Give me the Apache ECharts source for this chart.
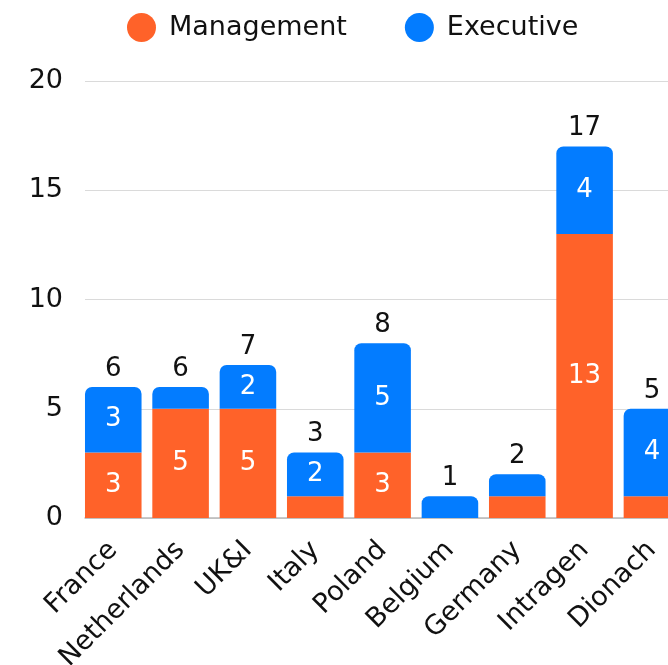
<!DOCTYPE html>
<html>
<head>
<meta charset="utf-8">
<script src="https://cdn.jsdelivr.net/npm/echarts@6/dist/echarts.min.js"></script>
<style>
  html, body { margin: 0; padding: 0; background: #fff; }
  #chart { width: 668px; height: 665px; }
</style>
</head>
<body>
<div id="chart"></div>
<script>
// Headcount by entity, split into management and executive roles
const categories = ['France', 'Netherlands', 'UK&I', 'Italy', 'Poland', 'Belgium', 'Germany', 'Intragen', 'Dionach'];
const management = [3, 5, 5, 1, 3, 0, 1, 13, 1];
const executive  = [3, 1, 2, 2, 5, 1, 1, 4, 4];
const yTicks = [0, 5, 10, 15, 20];

const totals = categories.map((_, i) => management[i] + executive[i]);

const FONT = 'DejaVu Sans';
const ORANGE = '#FF6229';
const BLUE = '#037CFF';

const insideLabel = {
  show: true,
  position: 'inside',
  color: '#ffffff',
  fontFamily: FONT,
  fontSize: 26,
  formatter: p => (p.value >= 2 ? String(p.value) : '')
};

const chart = echarts.init(document.getElementById('chart'), null, { renderer: 'canvas' });

chart.setOption({
  animation: false,
  backgroundColor: '#ffffff',
  textStyle: { fontFamily: FONT },
  legend: {
    data: ['Management', 'Executive'],
    left: 122,
    top: 8,
    icon: 'circle',
    itemWidth: 29,
    itemHeight: 29,
    itemGap: 58,
    textStyle: { fontFamily: FONT, fontSize: 27, color: '#111', padding: [0, 0, 0, 8] }
  },
  grid: [
    // bars and category labels
    { left: 79.6, top: 81, bottom: 147, width: 606, outerBoundsMode: 'none' },
    // horizontal guide lines and value labels
    { left: 85, top: 81, bottom: 147, width: 640, outerBoundsMode: 'none' }
  ],
  xAxis: [
    {
      gridIndex: 0,
      type: 'category',
      data: categories,
      axisLine: { show: false },
      axisTick: { show: false },
      axisLabel: {
        rotate: 45,
        margin: 28,
        color: '#111',
        fontFamily: FONT,
        fontSize: 27,
        interval: 0
      }
    },
    {
      gridIndex: 1,
      type: 'value',
      min: 0, max: 1,
      show: true,
      axisLine: { show: true, onZero: false, lineStyle: { color: '#b8b8b8', width: 1.5 } },
      axisTick: { show: false },
      axisLabel: { show: false },
      splitLine: { show: false }
    }
  ],
  yAxis: [
    {
      gridIndex: 0,
      type: 'value',
      min: yTicks[0],
      max: yTicks[yTicks.length - 1],
      interval: 5,
      axisLine: { show: false },
      axisTick: { show: false },
      splitLine: { show: false },
      axisLabel: { show: false }
    },
    {
      gridIndex: 1,
      type: 'value',
      min: yTicks[0],
      max: yTicks[yTicks.length - 1],
      interval: 5,
      axisLine: { show: false },
      axisTick: { show: false },
      splitLine: { show: true, lineStyle: { color: '#dadada', width: 1 } },
      axisLabel: {
        margin: 22,
        color: '#111',
        fontFamily: FONT,
        fontSize: 27,
        formatter: v => (yTicks.includes(v) ? String(v) : '')
      }
    }
  ],
  series: [
    {
      name: 'Management',
      type: 'bar',
      stack: 'total',
      xAxisIndex: 0,
      yAxisIndex: 0,
      data: management,
      barCategoryGap: '16%',
      itemStyle: { color: ORANGE },
      label: insideLabel,
      z: 3
    },
    {
      name: 'Executive',
      type: 'bar',
      stack: 'total',
      xAxisIndex: 0,
      yAxisIndex: 0,
      data: executive,
      itemStyle: { color: BLUE, borderRadius: [7, 7, 0, 0] },
      label: insideLabel,
      z: 3
    },
    {
      // zero-height cap carrying the stack total above each bar
      name: 'Total',
      type: 'bar',
      stack: 'total',
      xAxisIndex: 0,
      yAxisIndex: 0,
      data: categories.map(() => 0),
      itemStyle: { color: 'transparent' },
      label: {
        show: true,
        position: 'top',
        distance: 5,
        color: '#111',
        fontFamily: FONT,
        fontSize: 26,
        formatter: p => String(totals[p.dataIndex])
      },
      z: 4
    }
  ]
});
</script>
</body>
</html>
